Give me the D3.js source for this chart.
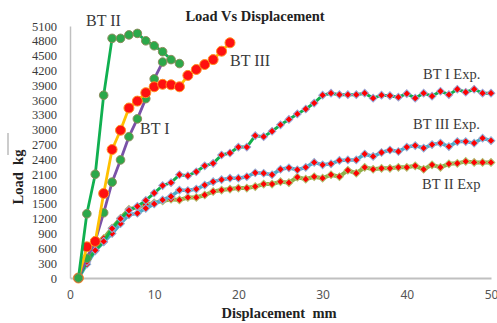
<!DOCTYPE html>
<html>
<head>
<meta charset="utf-8">
<script src="https://cdn.jsdelivr.net/npm/d3@7"></script>
<style>
  body { margin: 0; background: #fff; }
  svg { display: block; }
</style>
</head>
<body>
<div id="chart"></div>
<script>
// displacement (mm) for each series
var dispBT2 = [1, 2, 3, 4, 5, 6, 7, 8, 9, 10, 11, 12, 13];
var dispBT1 = [1, 2, 3, 4, 5, 6, 7, 8, 9, 10, 11];
var dispBT3 = [1, 2, 3, 4, 5, 6, 7, 8, 9, 10, 11, 12, 13, 14, 15, 16, 17, 18, 19];
var dispExp = [1, 2, 3, 4, 5, 6, 7, 8, 9, 10, 11, 12, 13, 14, 15, 16, 17, 18, 19, 20,
    21, 22, 23, 24, 25, 26, 27, 28, 29, 30, 31, 32, 33, 34, 35, 36, 37, 38, 39, 40,
    41, 42, 43, 44, 45, 46, 47, 48, 49, 50];

// load (kg)
var loadBT2 = [0, 1300, 2100, 3700, 4850, 4850, 4920, 4950, 4800, 4700, 4580, 4420, 4340];
var loadBT1 = [0, 400, 750, 1320, 1940, 2390, 2860, 3220, 3630, 4030, 4370];
var loadBT3 = [0, 630, 740, 1710, 2600, 2990, 3440, 3580, 3750, 3870, 3920, 3910, 3870,
    4100, 4220, 4320, 4420, 4590, 4760];
var loadBT1Exp = [0, 330, 560, 740, 1000, 1200, 1370, 1450, 1570, 1720, 1870, 1930, 2090, 2070,
    2150, 2270, 2320, 2490, 2530, 2650, 2650, 2880, 2860, 2970, 3100, 3210, 3320, 3420, 3540,
    3700, 3740, 3710, 3710, 3710, 3740, 3640, 3700, 3690, 3660, 3730, 3640, 3740, 3680, 3780,
    3710, 3820, 3760, 3820, 3740, 3740];
var loadBT3Exp = [0, 280, 550, 730, 900, 1100, 1280, 1310, 1410, 1500, 1580, 1650, 1780, 1770,
    1800, 1880, 1950, 1990, 2020, 2020, 2050, 2130, 2120, 2090, 2200, 2230, 2190, 2240, 2340,
    2290, 2310, 2380, 2390, 2390, 2510, 2460, 2540, 2590, 2560, 2650, 2680, 2630, 2700, 2730,
    2660, 2760, 2760, 2730, 2830, 2780];
var loadBT2Exp = [0, 350, 620, 800, 1010, 1210, 1390, 1430, 1480, 1520, 1560, 1595, 1580, 1630,
    1630, 1680, 1750, 1780, 1800, 1820, 1820, 1850, 1900, 1900, 1950, 1930, 2040, 2000, 2050,
    2020, 2090, 2050, 2180, 2120, 2240, 2200, 2220, 2220, 2240, 2240, 2270, 2200, 2290, 2240,
    2310, 2320, 2360, 2340, 2340, 2340];

var yTicks = d3.range(0, 5101, 300);
var xTicks = [0, 10, 20, 30, 40, 50];

var width = 497, height = 323;

var svg = d3.select("#chart").append("svg")
    .attr("width", width).attr("height", height);

var x = d3.scaleLinear().domain([0, 50]).range([70, 491]);
var y = d3.scaleLinear().domain([0, 5100]).range([278, 26]);

// axes: plain light grey lines, no tick marks
var yAxis = svg.append("g").attr("transform", "translate(" + x(0) + ",0)")
    .call(d3.axisLeft(y).tickValues(yTicks).tickFormat(d3.format("d")).tickSize(0).tickPadding(13));
yAxis.select(".domain").attr("stroke", "#c0c0c0").attr("stroke-width", 1.5);
yAxis.selectAll("text")
    .attr("font-family", "'Liberation Serif', serif")
    .attr("font-size", 12.5).attr("fill", "#3a3a3a");

var xAxis = svg.append("g").attr("transform", "translate(0," + y(0) + ")")
    .call(d3.axisBottom(x).tickValues(xTicks).tickSize(0).tickPadding(12));
xAxis.select(".domain").attr("stroke", "#c0c0c0").attr("stroke-width", 2);
xAxis.selectAll("text")
    .attr("font-family", "'Noto Sans', sans-serif")
    .attr("font-size", 12).attr("fill", "#555");

var line = d3.line().x(function (d) { return x(d[0]); }).y(function (d) { return y(d[1]); });

function pairs(xs, ys) {
    return xs.map(function (v, i) { return [v, ys[i]]; });
}

var diamond = d3.symbol().type(d3.symbolSquare).size(30);

// experimental curves first (underneath)
var expSeries = [
    { xs: dispExp, ys: loadBT2Exp, color: "#8db04a", w: 4, halo: "#b0c070" },
    { xs: dispExp, ys: loadBT3Exp, color: "#4bacc6", w: 3.5, halo: "#8fb0d8" },
    { xs: dispExp, ys: loadBT1Exp, color: "#12b04a", w: 3, halo: "#9aa6d6" }
];

expSeries.forEach(function (s) {
    var pts = pairs(s.xs, s.ys);
    svg.append("path").datum(pts)
        .attr("d", line).attr("fill", "none")
        .attr("stroke", s.color).attr("stroke-width", s.w)
        .attr("stroke-linejoin", "round");
    svg.append("g").selectAll("path").data(pts).enter().append("path")
        .attr("d", diamond)
        .attr("transform", function (d) {
            return "translate(" + x(d[0]) + "," + y(d[1]) + ") rotate(45)";
        })
        .attr("fill", "#ff0000").attr("stroke", s.halo).attr("stroke-width", 1);
});

// analytical curves
var anSeries = [
    { xs: dispBT1, ys: loadBT1, color: "#7a52a8", mfill: "#2ca84a", mstroke: "#8c8c5c", r: 4.3 },
    { xs: dispBT3, ys: loadBT3, color: "#ffc000", mfill: "#ff1010", mstroke: "#ff9020", r: 5 },
    { xs: dispBT2, ys: loadBT2, color: "#10b050", mfill: "#2ca84a", mstroke: "#8c8c5c", r: 4.3 }
];

anSeries.forEach(function (s) {
    var pts = pairs(s.xs, s.ys);
    svg.append("path").datum(pts)
        .attr("d", line).attr("fill", "none")
        .attr("stroke", s.color).attr("stroke-width", 2.8)
        .attr("stroke-linejoin", "round");
    svg.append("g").selectAll("circle").data(pts).enter().append("circle")
        .attr("cx", function (d) { return x(d[0]); })
        .attr("cy", function (d) { return y(d[1]); })
        .attr("r", s.r)
        .attr("fill", s.mfill).attr("stroke", s.mstroke).attr("stroke-width", 1);
});

// labels
var serif = "'Liberation Serif', 'Times New Roman', serif";

svg.append("text").attr("x", 255).attr("y", 21)
    .attr("text-anchor", "middle")
    .attr("font-family", serif).attr("font-weight", "bold")
    .attr("font-size", 14.5).attr("fill", "#222")
    .text("Load Vs Displacement");

var seriesLabels = [
    { t: "BT II", x: 86, y: 26, s: 16 },
    { t: "BT III", x: 230, y: 66, s: 16 },
    { t: "BT I", x: 140, y: 134, s: 16 },
    { t: "BT I Exp.", x: 423, y: 79, s: 14.5 },
    { t: "BT III Exp.", x: 413, y: 129, s: 14.5 },
    { t: "BT II Exp", x: 422, y: 189, s: 14.5 }
];

svg.selectAll("text.lbl").data(seriesLabels).enter().append("text")
    .attr("class", "lbl")
    .attr("x", function (d) { return d.x; })
    .attr("y", function (d) { return d.y; })
    .attr("font-family", serif)
    .attr("font-size", function (d) { return d.s; })
    .attr("fill", "#3a3a3a")
    .text(function (d) { return d.t; });

svg.append("text").attr("x", 279).attr("y", 318)
    .attr("text-anchor", "middle")
    .attr("font-family", serif).attr("font-weight", "bold")
    .attr("font-size", 14.5).attr("fill", "#222")
    .attr("xml:space", "preserve")
    .text("Displacement  mm");

svg.append("text")
    .attr("transform", "translate(23,177) rotate(-90)")
    .attr("text-anchor", "middle")
    .attr("font-family", serif).attr("font-weight", "bold")
    .attr("font-size", 14.5).attr("fill", "#222")
    .attr("xml:space", "preserve")
    .text("Load  kg");

// small stray bracket mark left of the axis title
svg.append("line")
    .attr("x1", 8).attr("x2", 8).attr("y1", 133).attr("y2", 155)
    .attr("stroke", "#999").attr("stroke-width", 1);
</script>
</body>
</html>
